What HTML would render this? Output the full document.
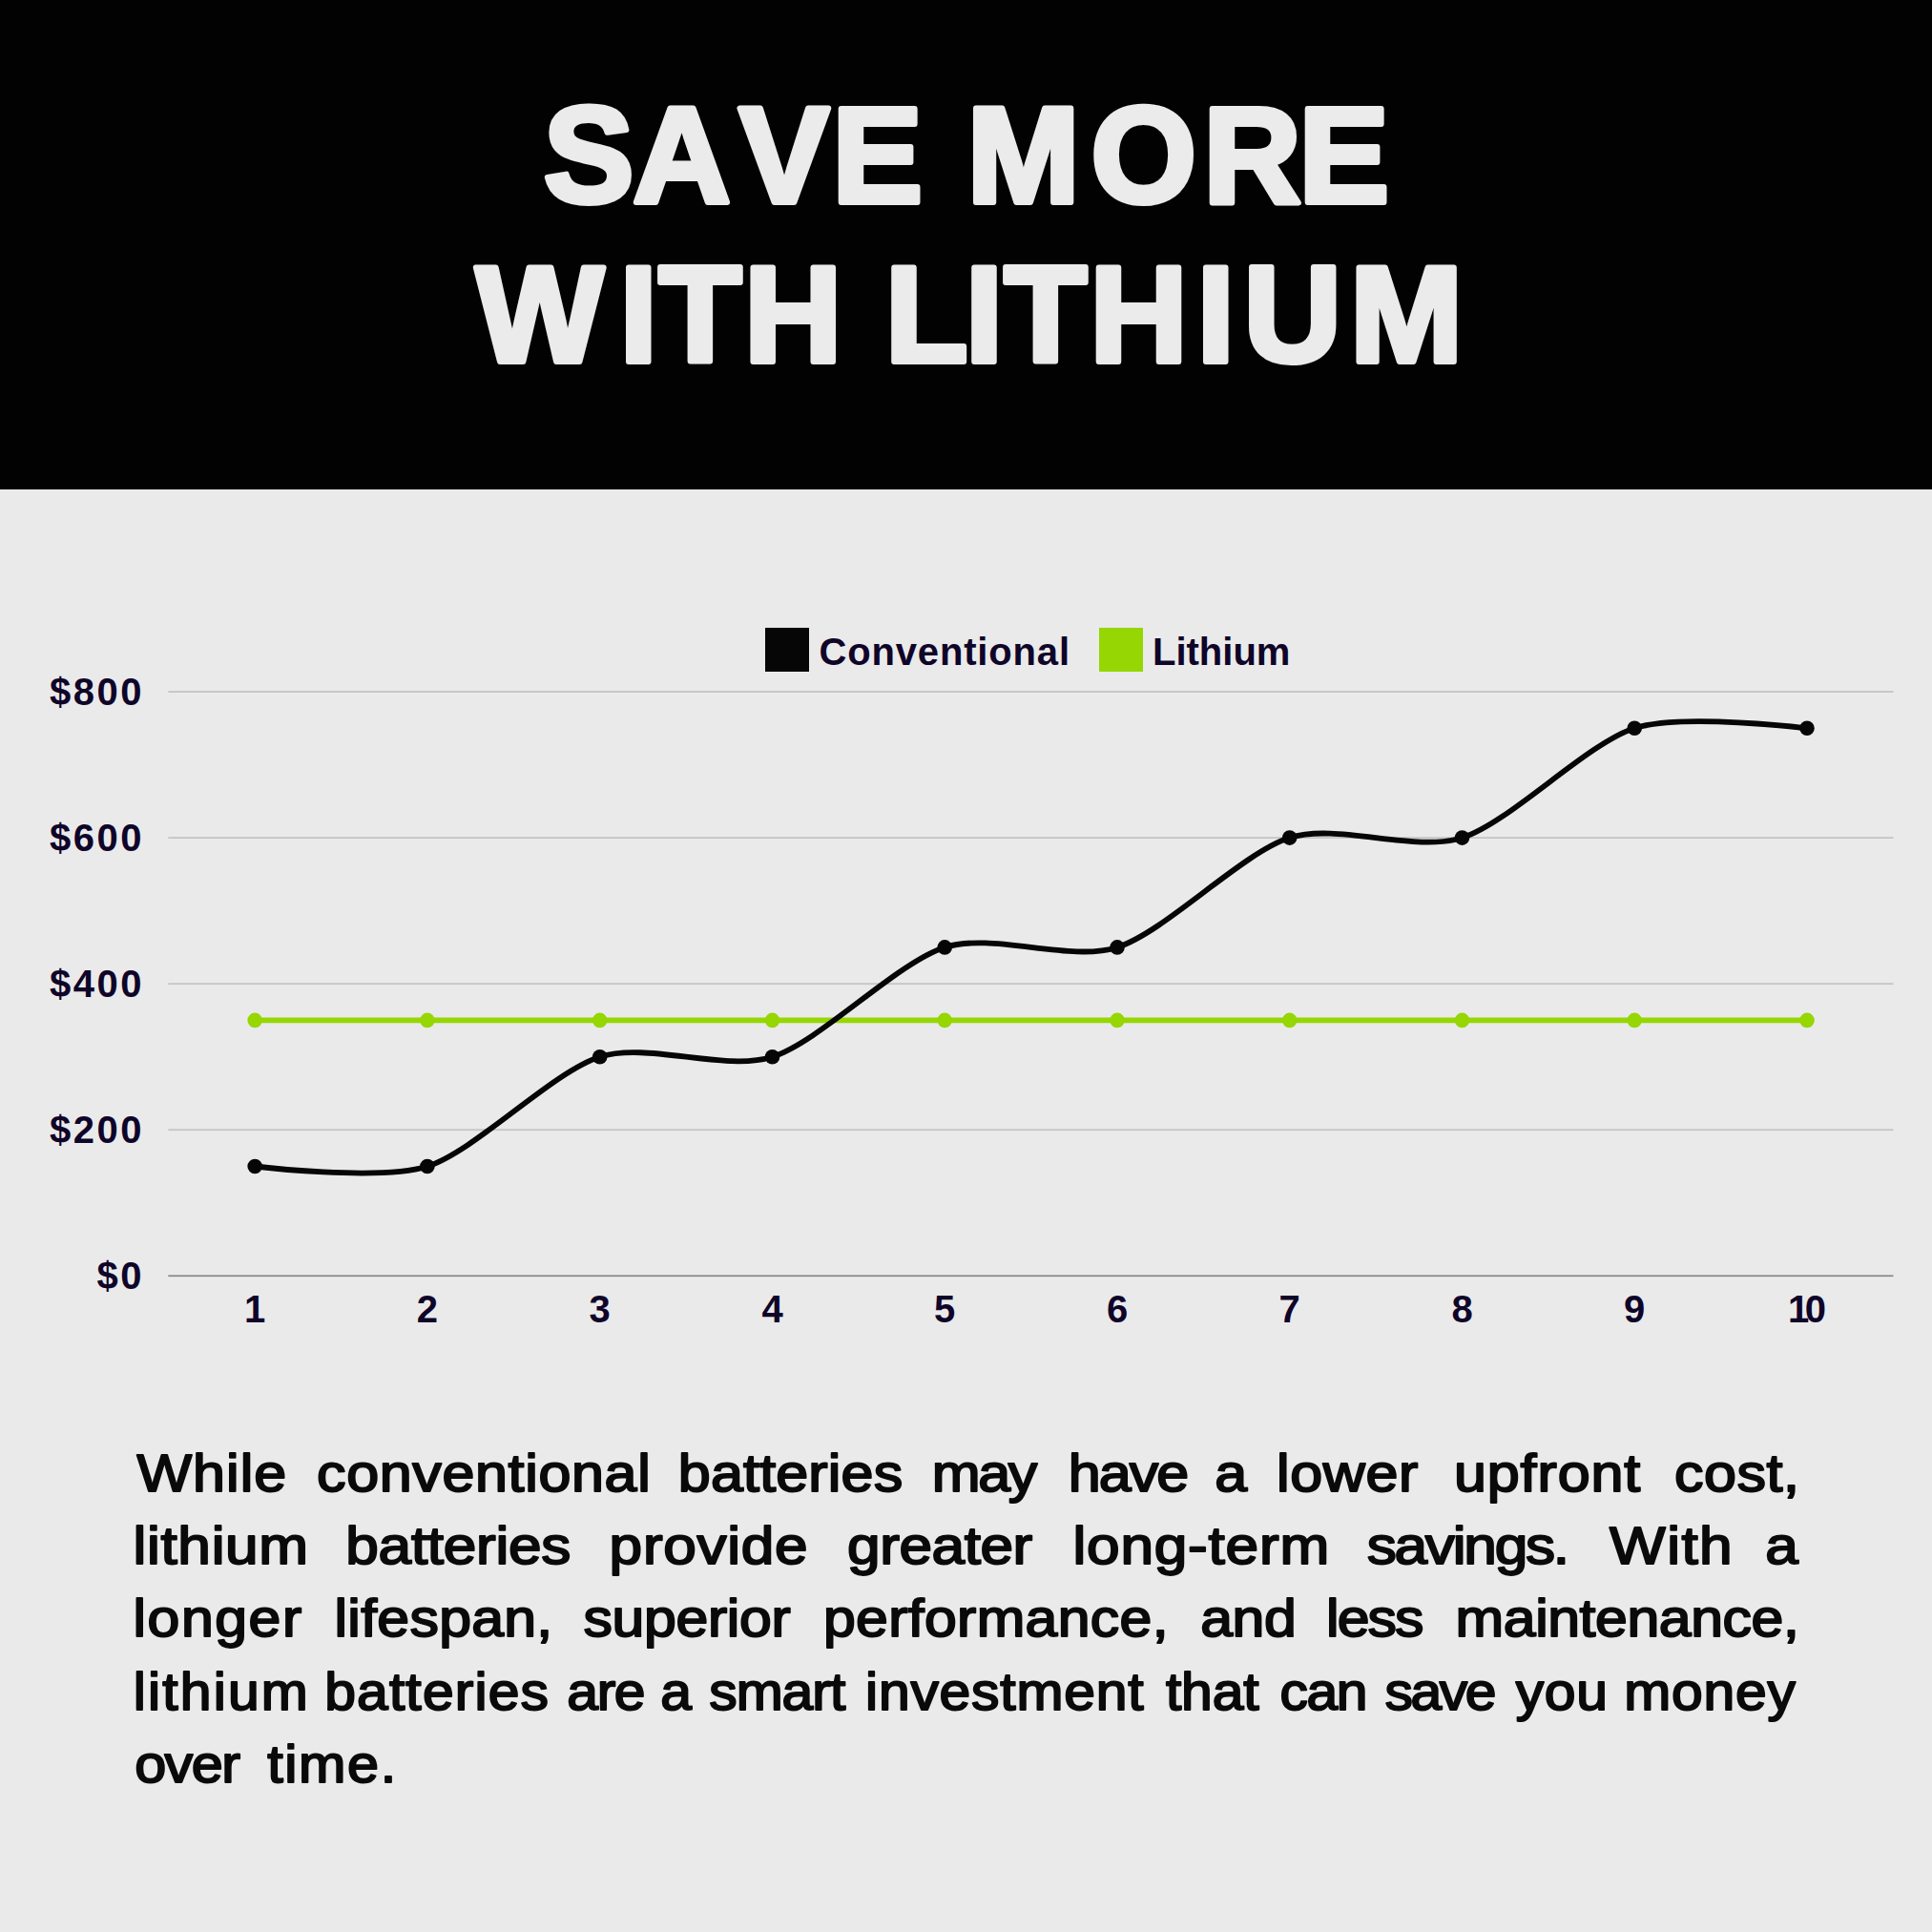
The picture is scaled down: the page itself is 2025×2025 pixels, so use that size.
<!DOCTYPE html>
<html lang="en"><head><meta charset="utf-8"><title>Save more with lithium</title>
<style>
html,body{margin:0;padding:0}
body{width:2025px;height:2025px;position:relative;overflow:hidden;background:#eaeaea;font-family:"Liberation Sans",sans-serif}
.hdr{position:absolute;left:0;top:0;width:2025px;height:513px;background:#020202}
.chart,.title,.para{position:absolute;left:0;top:0}
.ax{position:absolute;font-weight:700;font-size:40px;line-height:40px;color:#0f0529;white-space:nowrap;letter-spacing:2.5px}
.yl{text-align:right;width:151px;left:0}
.xl{text-align:center;width:100px;letter-spacing:0}
.lg{position:absolute;font-weight:700;font-size:40px;line-height:40px;color:#0f0529;white-space:nowrap}
.sq{position:absolute;width:46px;height:46px;top:658px}
</style></head><body>
<div class="hdr"></div>
<svg class="title" width="2025" height="513" viewBox="0 0 2025 513"><g font-family="Liberation Sans, sans-serif" font-weight="700" font-size="142" fill="#ebebeb" stroke="#ebebeb" stroke-width="6" stroke-linejoin="round" style="font-kerning:none"><text x="569.7 663.2 774.6 872.2 942.9 1013.6 1143.5 1261.2 1361.2" y="211.7">SAVE MORE</text><text x="498.8 649.6 690.4 780.0 853.9 927.8 1011.7 1052.6 1142.3 1254.4 1303.5 1415.1" y="378.8">WITH LITHIUM</text></g></svg>
<svg class="chart" width="2025" height="2025" viewBox="0 0 2025 2025">
<rect x="176.3" y="1183.34" width="1808.2" height="1.8" fill="#c5c5c5"/><rect x="176.3" y="1030.27" width="1808.2" height="1.8" fill="#c5c5c5"/><rect x="176.3" y="877.21" width="1808.2" height="1.8" fill="#c5c5c5"/><rect x="176.3" y="724.15" width="1808.2" height="1.8" fill="#c5c5c5"/><rect x="176.3" y="1336.50" width="1808.2" height="1.6" fill="#828282"/>
<g fill="#95d603"><path d="M267.2 1069.4 H1894.0" stroke="#95d603" stroke-width="5.8" fill="none"/><circle cx="267.2" cy="1069.4" r="7.8"/><circle cx="447.9" cy="1069.4" r="7.8"/><circle cx="628.7" cy="1069.4" r="7.8"/><circle cx="809.5" cy="1069.4" r="7.8"/><circle cx="990.2" cy="1069.4" r="7.8"/><circle cx="1171.0" cy="1069.4" r="7.8"/><circle cx="1351.7" cy="1069.4" r="7.8"/><circle cx="1532.5" cy="1069.4" r="7.8"/><circle cx="1713.2" cy="1069.4" r="7.8"/><circle cx="1894.0" cy="1069.4" r="7.8"/></g>
<g fill="#060606"><path d="M267.2 1222.5 C267.2 1222.5 397.9 1238.4 447.9 1222.5 C498.0 1206.6 578.7 1123.6 628.7 1107.7 C678.7 1091.8 759.4 1123.6 809.5 1107.7 C859.5 1091.8 940.2 1008.8 990.2 992.9 C1040.2 977.0 1120.9 1008.8 1171.0 992.9 C1221.0 977.0 1301.7 894.0 1351.7 878.1 C1401.7 862.2 1482.4 894.0 1532.5 878.1 C1582.5 862.2 1663.2 779.2 1713.2 763.3 C1763.2 747.4 1894.0 763.3 1894.0 763.3" stroke="#060606" stroke-width="5.8" fill="none" stroke-linecap="round"/><circle cx="267.2" cy="1222.5" r="7.8"/><circle cx="447.9" cy="1222.5" r="7.8"/><circle cx="628.7" cy="1107.7" r="7.8"/><circle cx="809.5" cy="1107.7" r="7.8"/><circle cx="990.2" cy="992.9" r="7.8"/><circle cx="1171.0" cy="992.9" r="7.8"/><circle cx="1351.7" cy="878.1" r="7.8"/><circle cx="1532.5" cy="878.1" r="7.8"/><circle cx="1713.2" cy="763.3" r="7.8"/><circle cx="1894.0" cy="763.3" r="7.8"/></g>
</svg>
<div class="sq" style="left:802px;background:#060606"></div>
<div class="lg" id="lg1" style="left:858.4px;top:663px;letter-spacing:0.85px">Conventional</div>
<div class="sq" style="left:1152px;background:#95d603"></div>
<div class="lg" id="lg2" style="left:1208px;top:663px">Lithium</div>
<div class="ax yl" id="y800" style="top:705px">$800</div>
<div class="ax yl" id="y600" style="top:858px">$600</div>
<div class="ax yl" id="y400" style="top:1011px">$400</div>
<div class="ax yl" id="y200" style="top:1164px">$200</div>
<div class="ax yl" id="y0" style="top:1317px">$0</div>
<div class="ax xl" id="x1" style="left:217.2px;top:1352px">1</div>
<div class="ax xl" id="x2" style="left:397.9px;top:1352px">2</div>
<div class="ax xl" id="x3" style="left:578.7px;top:1352px">3</div>
<div class="ax xl" id="x4" style="left:759.5px;top:1352px">4</div>
<div class="ax xl" id="x5" style="left:940.2px;top:1352px">5</div>
<div class="ax xl" id="x6" style="left:1121.0px;top:1352px">6</div>
<div class="ax xl" id="x7" style="left:1301.7px;top:1352px">7</div>
<div class="ax xl" id="x8" style="left:1482.5px;top:1352px">8</div>
<div class="ax xl" id="x9" style="left:1663.2px;top:1352px">9</div>
<div class="ax xl" id="x10" style="letter-spacing:-4.5px;margin-left:-2.2px;left:1844.0px;top:1352px">10</div>

<svg class="para" width="2025" height="2025" viewBox="0 0 2025 2025"><g font-family="Liberation Sans, sans-serif" font-size="56.0" fill="#0a0a0a" stroke="#0a0a0a" stroke-width="2.0" stroke-linejoin="round" style="font-kerning:none">
<text transform="scale(1.090,1)" x="131.6 185.4 217.5 230.9 244.3 275.4 304.6 333.2 364.9 396.6 425.2 456.9 488.6 504.8 517.8 549.5 581.2 613.0 625.4 652.1 683.4 714.7 730.4 746.1 777.4 796.2 808.8 840.1 868.1 896.1 940.5 969.5 997.5 1027.4 1056.7 1086.0 1112.2 1143.3 1168.2 1199.3 1227.5 1240.5 1272.2 1313.2 1345.0 1363.6 1398.1 1430.1 1462.0 1478.4 1497.9 1529.9 1561.8 1577.4 1610.1 1638.5 1670.1 1698.6 1714.6" y="1562.6">While conventional batteries may have a lower upfront cost,</text>
<text transform="scale(1.110,1)" x="125.7 138.7 151.8 167.9 199.7 212.7 244.4 291.1 326.4 357.3 388.2 403.4 418.7 449.6 468.0 480.2 511.0 539.0 575.3 607.1 626.4 658.1 686.8 699.8 731.6 762.7 800.1 830.8 849.0 879.8 910.5 925.6 956.3 975.0 1013.0 1026.1 1058.0 1089.8 1121.7 1141.0 1157.3 1189.1 1208.5 1255.1 1290.7 1316.7 1345.8 1371.8 1382.2 1411.4 1440.5 1466.5 1482.0 1519.9 1574.1 1587.8 1604.6 1635.8 1666.8" y="1638.8">lithium batteries provide greater long-term savings. With a</text>
<text transform="scale(1.085,1)" x="128.7 142.5 175.1 207.7 240.2 272.8 291.5 323.1 335.8 348.6 364.4 395.8 424.1 455.5 486.9 518.3 533.9 563.6 591.3 622.1 652.9 683.8 702.1 714.2 745.1 763.7 795.4 826.8 858.3 877.2 893.1 924.5 943.5 990.4 1021.9 1053.3 1081.6 1113.1 1128.6 1159.6 1190.3 1221.1 1252.2 1281.2 1291.9 1321.3 1347.5 1375.5 1406.1 1452.4 1483.1 1495.2 1525.9 1541.1 1571.9 1602.6 1633.4 1664.1 1691.7 1722.5" y="1715.3">longer lifespan, superior performance, and less maintenance,</text>
<text transform="scale(1.050,1)" x="133.0 147.6 162.1 179.8 213.0 227.6 260.8 307.5 324.0 356.2 388.5 405.1 421.8 454.0 473.8 487.3 519.6 547.6 566.0 595.9 613.2 644.3 659.3 690.4 707.9 735.0 780.6 810.8 828.5 844.1 863.9 877.1 909.0 937.7 969.6 998.4 1014.7 1062.1 1094.0 1125.9 1141.4 1163.7 1179.1 1210.2 1241.2 1256.7 1277.6 1304.2 1334.0 1365.1 1382.3 1408.0 1436.9 1462.6 1493.8 1513.1 1541.7 1573.5 1604.6 1621.2 1668.6 1700.5 1732.4 1764.3" y="1791.8">lithium batteries are a smart investment that can save you money</text>
<text transform="scale(1.060,1)" x="133.2 162.8 189.4 219.0 237.7 264.3 281.4 295.4 343.5 376.2" y="1868.2">over time.</text>
</g></svg>
</body></html>
